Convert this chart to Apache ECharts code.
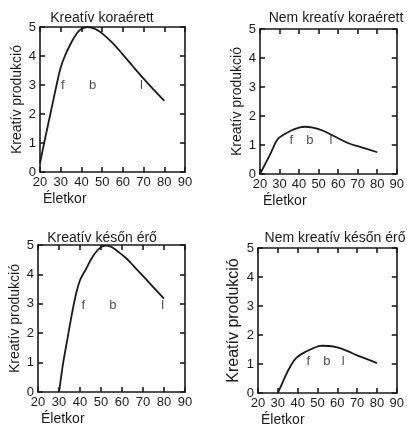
<!DOCTYPE html>
<html><head><meta charset="utf-8">
<script src="https://cdn.jsdelivr.net/npm/echarts@6/dist/echarts.min.js"></script>
<style>html,body{margin:0;padding:0;background:#fff}#c{width:407px;height:427px}</style>
</head><body><div id="c"></div>
<script>
// ---- data ----
const panelTitles = ['Kreatív koraérett', 'Nem kreatív koraérett', 'Kreatív későn érő', 'Nem kreatív későn érő'];
const yAxisName = 'Kreatív produkció';
const xAxisName = 'Életkor';
const xMin = 20, xMax = 90, xStep = 10;
const yMin = 0, yMax = 5, yStep = 1;

const ageKoraKreativ = [20, 22, 25, 28, 30, 32, 35, 38, 40, 43, 47, 50, 55, 60, 65, 70, 75, 80];
const prodKoraKreativ = [0.3, 1.0, 2.0, 3.0, 3.6, 4.0, 4.45, 4.8, 4.93, 5.0, 4.92, 4.78, 4.45, 4.05, 3.63, 3.22, 2.83, 2.45];

const ageKoraNem = [20, 25, 29, 32, 36, 40, 43, 47, 52, 58, 65, 72, 80];
const prodKoraNem = [0, 0.65, 1.2, 1.35, 1.5, 1.6, 1.63, 1.6, 1.5, 1.3, 1.07, 0.92, 0.75];

const ageKesoKreativ = [30, 31, 32, 34, 36, 38, 40, 43, 46, 49, 52, 55, 58, 62, 66, 70, 75, 80];
const prodKesoKreativ = [0, 0.5, 1.0, 1.8, 2.6, 3.3, 3.8, 4.2, 4.6, 4.87, 4.98, 4.93, 4.78, 4.55, 4.25, 3.95, 3.56, 3.18];

const ageKesoNem = [30, 32, 35, 38, 40, 44, 48, 52, 56, 60, 65, 70, 75, 80];
const prodKesoNem = [0, 0.3, 0.75, 1.1, 1.25, 1.42, 1.55, 1.63, 1.62, 1.57, 1.45, 1.3, 1.17, 1.03];

const phaseLetters = ['f', 'b', 'l'];
const phaseX = [[31, 45.4, 69], [36, 45.5, 56.3], [41.6, 55.6, 79.4], [45.4, 54.7, 63]];
const phaseY = [3.0, 1.15, 2.95, 1.1];

// ---- layout ----
const grids = [
  {left: 40, top: 27, width: 145, height: 145},
  {left: 260, top: 29, width: 143, height: 145},
  {left: 38, top: 245, width: 147, height: 147},
  {left: 258, top: 248, width: 144, height: 146}
];
const titlePos = [[97, 6], [331, 6], [97, 226], [330, 226]];
const yNameSize = [14, 14, 14, 16];
const curves = [
  [ageKoraKreativ, prodKoraKreativ],
  [ageKoraNem, prodKoraNem],
  [ageKesoKreativ, prodKesoKreativ],
  [ageKesoNem, prodKesoNem]
];

const ink = '#1a1a1a';
const font = 'Liberation Sans, Arial, Helvetica, sans-serif';
const xAxes = [], yAxes = [], series = [], titles = [];
const mkTick = () => ({show: true, inside: true, length: 5, lineStyle: {color: ink, width: 1.6}});
const mkLine = () => ({show: true, onZero: false, lineStyle: {color: ink, width: 1.6}});

grids.forEach((g, i) => {
  titles.push({
    text: panelTitles[i], left: titlePos[i][0], top: titlePos[i][1],
    textAlign: 'center',
    textStyle: {fontFamily: font, fontSize: 14, fontWeight: 'normal', color: ink}
  });
  // bottom x (index 2i)
  xAxes.push({
    gridIndex: i, type: 'value', min: xMin, max: xMax, interval: xStep, position: 'bottom',
    axisLine: mkLine(), axisTick: mkTick(), splitLine: {show: false},
    axisLabel: {margin: 4, fontFamily: font, fontSize: 13, color: ink},
    name: xAxisName, nameLocation: 'start', nameGap: -3,
    nameTextStyle: {fontFamily: font, fontSize: 14, color: ink, align: 'left', verticalAlign: 'top', padding: [20, 0, 0, 0]}
  });
  // top x mirror (index 2i+1)
  xAxes.push({
    gridIndex: i, type: 'value', min: xMin, max: xMax, interval: xStep, position: 'top',
    axisLine: mkLine(), axisTick: mkTick(), splitLine: {show: false}, axisLabel: {show: false}
  });
  // left y (index 2i)
  yAxes.push({
    gridIndex: i, type: 'value', min: yMin, max: yMax, interval: yStep, position: 'left',
    axisLine: mkLine(), axisTick: mkTick(), splitLine: {show: false},
    axisLabel: {margin: 4, fontFamily: font, fontSize: 13, color: ink},
    name: yAxisName, nameLocation: 'middle', nameRotate: 90, nameGap: 16,
    nameTextStyle: {fontFamily: font, fontSize: yNameSize[i], color: ink}
  });
  // right y mirror (index 2i+1)
  yAxes.push({
    gridIndex: i, type: 'value', min: yMin, max: yMax, interval: yStep, position: 'right',
    axisLine: mkLine(), axisTick: mkTick(), splitLine: {show: false}, axisLabel: {show: false}
  });
  const [xs, ys] = curves[i];
  series.push({
    type: 'line', xAxisIndex: 2 * i, yAxisIndex: 2 * i, smooth: 0.4, symbol: 'none',
    lineStyle: {color: ink, width: 1.8}, data: xs.map((x, k) => [x, ys[k]]), silent: true
  });
  series.push({
    type: 'scatter', xAxisIndex: 2 * i, yAxisIndex: 2 * i, symbolSize: 0, silent: true,
    itemStyle: {color: 'rgba(0,0,0,0)'},
    label: {show: true, position: 'inside', formatter: p => p.data[2], fontFamily: font, fontSize: 13, color: ink},
    data: phaseX[i].map((x, k) => [x, phaseY[i], phaseLetters[k]])
  });
});

const chart = echarts.init(document.getElementById('c'), null, {renderer: 'canvas'});
chart.setOption({
  animation: false,
  backgroundColor: '#fff',
  title: titles,
  grid: grids,
  xAxis: xAxes,
  yAxis: yAxes,
  series: series
});
</script>
</body></html>
